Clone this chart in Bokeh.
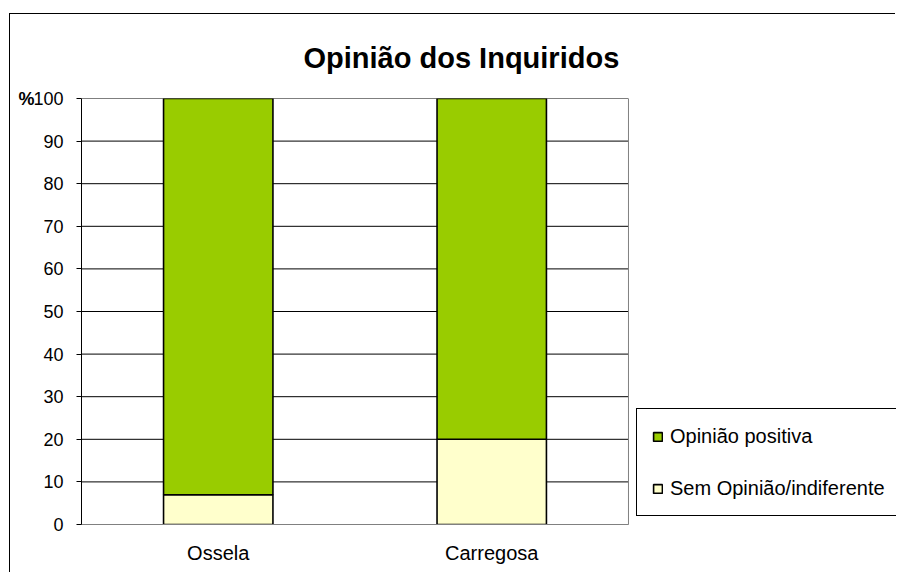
from bokeh.plotting import figure
from bokeh.models import Range1d, FixedTicker, Legend, LegendItem, LinearAxis, Span
from bokeh.embed import file_html
from bokeh.resources import INLINE

places = ["Ossela", "Carregosa"]
sem_opiniao = [7, 20]
opiniao_positiva = [93, 80]
y_ticks = [0, 10, 20, 30, 40, 50, 60, 70, 80, 90, 100]
unit_tick = [100]
unit_label = {100: "%"}
series = ["sem", "pos"]
labels = {"sem": "Sem Opinião/indiferente", "pos": "Opinião positiva"}
colors = ["#FFFFCC", "#99CC00"]

FONT = "Liberation Sans"

pos = list(range(1, len(places) + 1))
n = len(places)
x_lo, x_hi = 0.5, n + 0.5

# x extends past the plot area so the legend (drawn in the frame) can sit at the right
p = figure(x_range=Range1d(x_lo, x_hi + 0.98), y_range=Range1d(0, 100),
           width=886, height=559, output_backend="svg", toolbar_location=None,
           min_border_left=71, min_border_right=0, min_border_top=84, min_border_bottom=49)
p.margin = (13, 0, 0, 9)
p.styles = {"border-left": "1px solid black", "border-top": "1px solid black"}

p.title.text = "Opinião dos Inquiridos"
p.title.text_font = FONT
p.title.text_font_size = "29px"
p.title.text_font_style = "bold"
p.title.text_color = "black"
p.title.align = "left"
p.title.offset = 222
p.title.standoff = 50

p.outline_line_color = None
p.xgrid.visible = False
p.ygrid.visible = False

# horizontal grid lines limited to the plot area
p.segment(x0=[x_lo] * len(y_ticks), x1=[x_hi] * len(y_ticks), y0=y_ticks, y1=y_ticks,
          line_color="black", line_width=1)

data = {"x": pos, "sem": sem_opiniao, "pos": opiniao_positiva}
rs = p.vbar_stack(series, x="x", width=0.4, source=data, color=colors,
                  line_color="black", line_width=1.6)

p.add_layout(Span(location=x_hi, dimension="height", line_color="#808080", line_width=1))

p.yaxis.ticker = FixedTicker(ticks=y_ticks)
p.yaxis.major_label_text_font = FONT
p.yaxis.major_label_text_font_size = "18px"
p.yaxis.major_label_text_color = "black"
p.yaxis.major_tick_in = 0
p.yaxis.major_tick_out = 5
p.yaxis.major_tick_line_color = "black"
p.yaxis.minor_tick_line_color = None
p.yaxis.axis_line_color = "black"
p.yaxis.major_label_standoff = 13

unit_axis = LinearAxis(ticker=FixedTicker(ticks=unit_tick), major_label_overrides=unit_label,
                       axis_line_color=None, major_tick_line_color=None,
                       minor_tick_line_color=None, major_tick_out=0, major_tick_in=0,
                       major_label_standoff=-4, major_label_text_font=FONT,
                       major_label_text_font_size="18px", major_label_text_font_style="bold",
                       major_label_text_color="black")
p.add_layout(unit_axis, "left")

p.xaxis.ticker = FixedTicker(ticks=pos)
p.xaxis.major_label_overrides = {x: name for x, name in zip(pos, places)}
p.xaxis.bounds = (x_lo, x_hi)
p.xaxis.major_label_text_font = FONT
p.xaxis.major_label_text_font_size = "20px"
p.xaxis.major_label_text_color = "black"
p.xaxis.major_tick_line_color = None
p.xaxis.minor_tick_line_color = None
p.xaxis.axis_line_color = "#808080"
p.xaxis.major_label_standoff = 11

legend = Legend(items=[LegendItem(label=labels["pos"], renderers=[rs[1]]),
                       LegendItem(label=labels["sem"], renderers=[rs[0]])],
                location=(555, 8), orientation="vertical")
legend.label_text_font = FONT
legend.label_text_font_size = "20px"
legend.label_text_color = "black"
legend.glyph_width = 11
legend.glyph_height = 11
legend.label_height = 24
legend.spacing = 28
legend.padding = 15
legend.label_standoff = 7
legend.border_line_color = "black"
legend.border_line_width = 1
legend.border_line_alpha = 1
legend.background_fill_alpha = 1
legend.margin = 0
p.add_layout(legend)

open("out.html", "w").write(file_html(p, INLINE))
